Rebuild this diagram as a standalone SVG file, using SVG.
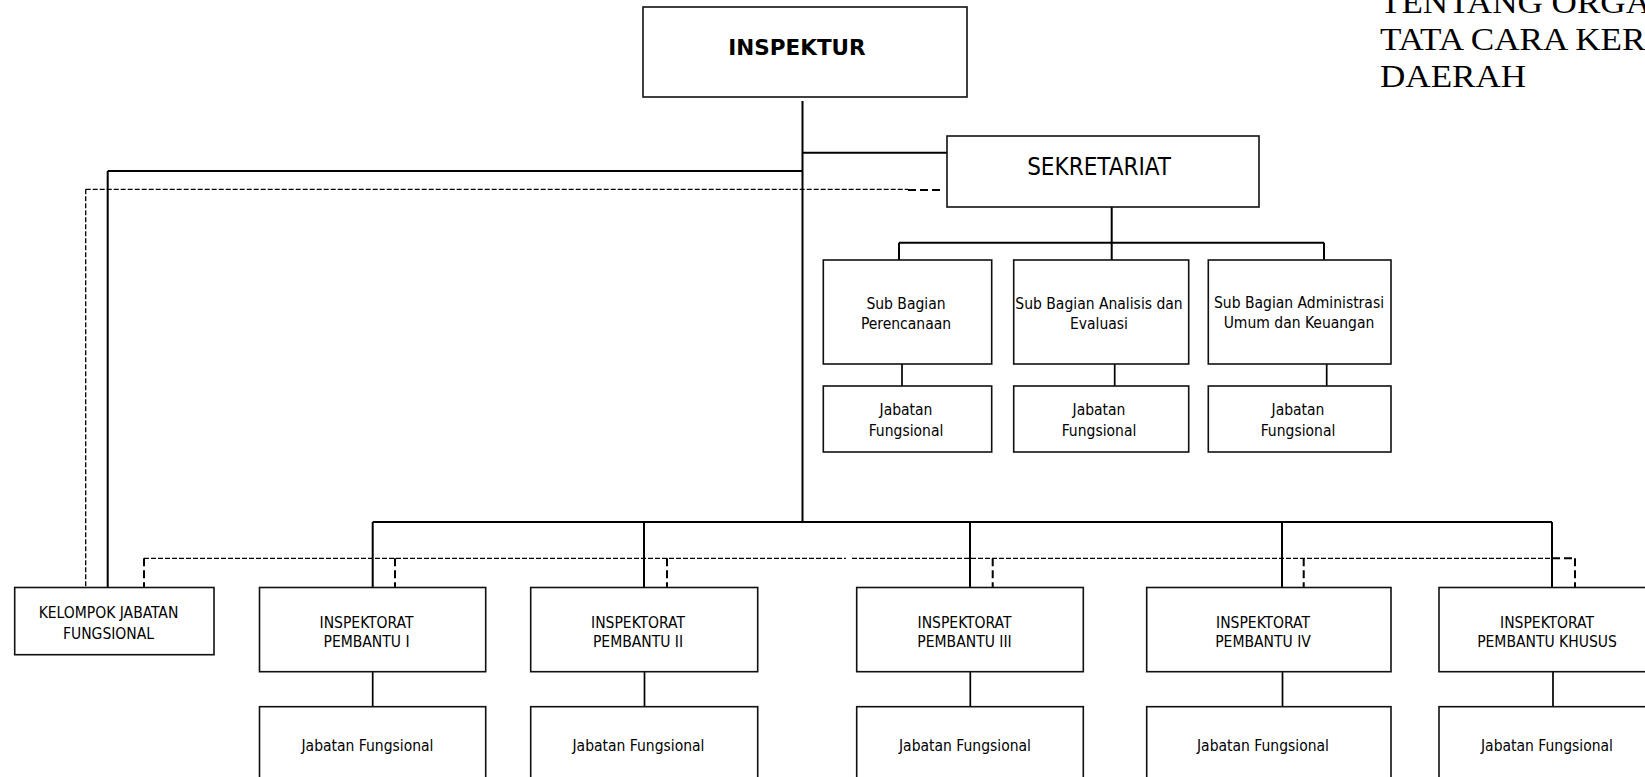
<svg xmlns="http://www.w3.org/2000/svg" width="1645" height="777" viewBox="0 0 1645 777">
<style>
.box{fill:#fff;stroke:#111;stroke-width:1.6}
.t{font-family:"DejaVu Sans Condensed","DejaVu Sans",sans-serif;font-stretch:condensed;font-size:15.5px;fill:#000;text-anchor:middle}
.big{font-size:24px}
.bold{font-family:"DejaVu Sans",sans-serif;font-weight:bold;font-size:21.5px;font-stretch:normal}
.head{font-family:"Liberation Serif",serif;font-size:32.5px;fill:#000}
.solid{stroke:#000;stroke-width:2;fill:none}
.thin{stroke:#000;stroke-width:1.7;fill:none}
.dash{stroke:#000;stroke-width:1.3;stroke-dasharray:5 2;fill:none}
.dashk{stroke:#000;stroke-width:2;stroke-dasharray:8 4;fill:none}
</style>
<rect width="1645" height="777" fill="#fff"/>
<g id="heading" transform="translate(1380 0) scale(1.08 1)">
<text class="head" x="0" y="13">TENTANG ORGAN</text>
<text class="head" x="0" y="50">TATA CARA KERJA</text>
<text class="head" x="0" y="87">DAERAH</text>
</g>
<g id="connectors">
<path class="solid" d="M802.5 101V522M802.5 152.7H947M107.7 171H802.5M107.7 171V587.5"/>
<path class="dash" d="M85.7 189.3H908M85.7 189.3V587.5"/>
<path class="dashk" d="M908 190H940"/>
<path class="solid" d="M1111.7 207V260M899 242.7H1324M899 242.7V260M1324 242.7V260"/>
<path class="thin" d="M902 364V386M1114.7 364V386M1326.7 364V386"/>
<path class="solid" d="M372.7 522H1552M372.7 522V587.5M644 522V587.5M970 522V587.5M1282 522V587.5M1552 522V587.5"/>
<path class="dash" d="M144 558.3H846M852 558.3H1552"/>
<path class="dashk" d="M1552 558.3H1575M144 558.3V587.5M395 558.3V587.5M667 558.3V587.5M992.7 558.3V587.5M1303.7 558.3V587.5M1575 558.3V587.5"/>
<path class="thin" d="M372.7 671.7V706.7M644.5 671.7V706.7M970.3 671.7V706.7M1282.5 671.7V706.7M1553 671.7V706.7"/>
</g>
<g id="inspektur">
<rect class="box" x="643" y="7" width="324" height="90"/>
<text class="t bold" x="797" y="55">INSPEKTUR</text>
</g>
<g id="sekretariat">
<rect class="box" x="947" y="136" width="312" height="71"/>
<text class="t big" x="1099" y="175">SEKRETARIAT</text>
</g>
<g id="sub-perencanaan">
<rect class="box" x="823.3" y="260" width="168.4" height="104"/>
<text class="t" x="906" y="309">Sub Bagian</text>
<text class="t" x="906" y="329">Perencanaan</text>
</g>
<g id="sub-analisis">
<rect class="box" x="1013.7" y="260" width="175" height="104"/>
<text class="t" x="1099" y="309">Sub Bagian Analisis dan</text>
<text class="t" x="1099" y="329">Evaluasi</text>
</g>
<g id="sub-administrasi">
<rect class="box" x="1208.3" y="260" width="182.7" height="104"/>
<text class="t" x="1299" y="308">Sub Bagian Administrasi</text>
<text class="t" x="1299" y="328">Umum dan Keuangan</text>
</g>
<g id="jf-perencanaan">
<rect class="box" x="823.3" y="386" width="168.4" height="66"/>
<text class="t" x="906" y="415">Jabatan</text>
<text class="t" x="906" y="436">Fungsional</text>
</g>
<g id="jf-analisis">
<rect class="box" x="1013.7" y="386" width="175" height="66"/>
<text class="t" x="1099" y="415">Jabatan</text>
<text class="t" x="1099" y="436">Fungsional</text>
</g>
<g id="jf-administrasi">
<rect class="box" x="1208.3" y="386" width="182.7" height="66"/>
<text class="t" x="1298" y="415">Jabatan</text>
<text class="t" x="1298" y="436">Fungsional</text>
</g>
<g id="kelompok">
<rect class="box" x="14.7" y="587.5" width="199.3" height="67.2"/>
<text class="t" x="108.5" y="618.3">KELOMPOK JABATAN</text>
<text class="t" x="108.5" y="639">FUNGSIONAL</text>
</g>
<g id="ip1">
<rect class="box" x="259.5" y="587.5" width="226.2" height="84.2"/>
<text class="t" x="366.5" y="627.7">INSPEKTORAT</text>
<text class="t" x="366.5" y="647.3">PEMBANTU I</text>
</g>
<g id="ip2">
<rect class="box" x="530.7" y="587.5" width="227" height="84.2"/>
<text class="t" x="638" y="627.7">INSPEKTORAT</text>
<text class="t" x="638" y="647.3">PEMBANTU II</text>
</g>
<g id="ip3">
<rect class="box" x="856.7" y="587.5" width="226.6" height="84.2"/>
<text class="t" x="964.5" y="627.7">INSPEKTORAT</text>
<text class="t" x="964.5" y="647.3">PEMBANTU III</text>
</g>
<g id="ip4">
<rect class="box" x="1146.7" y="587.5" width="244.3" height="84.2"/>
<text class="t" x="1263" y="627.7">INSPEKTORAT</text>
<text class="t" x="1263" y="647.3">PEMBANTU IV</text>
</g>
<g id="ipk">
<rect class="box" x="1439" y="587.5" width="226" height="84.2"/>
<text class="t" x="1547" y="627.7">INSPEKTORAT</text>
<text class="t" x="1547" y="647.3">PEMBANTU KHUSUS</text>
</g>
<g id="jf1">
<rect class="box" x="259.5" y="706.7" width="226.2" height="90"/>
<text class="t" x="367.5" y="751">Jabatan Fungsional</text>
</g>
<g id="jf2">
<rect class="box" x="530.7" y="706.7" width="227" height="90"/>
<text class="t" x="638.5" y="751">Jabatan Fungsional</text>
</g>
<g id="jf3">
<rect class="box" x="856.7" y="706.7" width="226.6" height="90"/>
<text class="t" x="965" y="751">Jabatan Fungsional</text>
</g>
<g id="jf4">
<rect class="box" x="1146.7" y="706.7" width="244.3" height="90"/>
<text class="t" x="1263" y="751">Jabatan Fungsional</text>
</g>
<g id="jfk">
<rect class="box" x="1439" y="706.7" width="226" height="90"/>
<text class="t" x="1547" y="751">Jabatan Fungsional</text>
</g>
</svg>
